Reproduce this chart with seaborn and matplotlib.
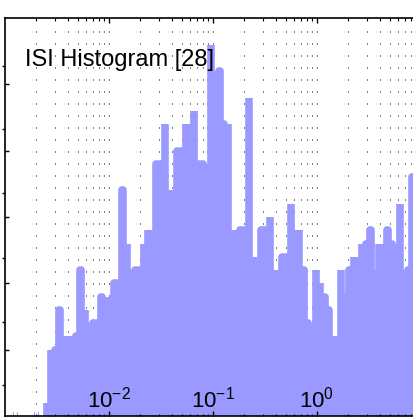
import numpy as np
import pandas as pd
import matplotlib.pyplot as plt
import matplotlib.ticker as mticker
import seaborn as sns

# bins: 100 log-spaced centres between 1 ms and 10 s
bin_centers = np.logspace(-3, 1, 100)
isi_counts = [
    0, 0, 0, 0, 0, 0, 0, 0, 0, 0,
    1, 5, 5, 8, 6, 6, 6, 6, 11, 8,
    7, 7, 7, 9, 9, 9, 10, 10, 17, 13,
    11, 11, 11, 13, 14, 14, 19, 19, 22, 17,
    17, 20, 20, 22, 22, 23, 19, 19, 19, 28,
    26, 26, 22, 22, 14, 14, 14, 14, 24, 12,
    12, 14, 14, 15, 11, 11, 12, 12, 16, 14,
    14, 11, 7, 7, 11, 10, 9, 8, 6, 6,
    11, 9, 11, 12, 12, 13, 13, 14, 11, 13,
    13, 14, 13, 13, 16, 11, 11, 18, 18, 18,
]
xtick_values = [1e-2, 1e-1, 1e0]
xtick_labels = [r'$10^{-2}$', r'$10^{-1}$', r'$10^{0}$']
ytick_values = [5, 10, 15, 20, 25]
ytick_second = [2.3, 7.1, 11.9, 16.8, 21.6, 26.4]
title_text = 'ISI Histogram [28]'

df = pd.DataFrame({'isi': bin_centers, 'count': isi_counts})

sns.set_style('white')
plt.rcParams['font.family'] = ['Liberation Sans', 'DejaVu Sans']
plt.rcParams['mathtext.fontset'] = 'custom'
plt.rcParams['mathtext.rm'] = 'Liberation Sans'
plt.rcParams['mathtext.it'] = 'Liberation Sans:italic'
plt.rcParams['mathtext.bf'] = 'Liberation Sans:bold'
plt.rcParams['axes.axisbelow'] = False

fig = plt.figure(figsize=(4.14, 4.17), dpi=100)
ax = fig.add_axes([5 / 414, 1 / 417, 416 / 414, 398 / 417])

# histograma com topos arredondados (estilo matlab)
sns.histplot(data=df, x='isi', weights='count', bins=100,
             binrange=(-3.0202, 1.0202), log_scale=True, shrink=0.1,
             color='#9999ff', edgecolor='#9999ff', linewidth=5.5,
             alpha=1, ax=ax)
for p in ax.patches:
    p.set_joinstyle('round')

ax.set_xlim(1e-3, 10)
ax.set_ylim(0, 30)
ax.set_xlabel('')
ax.set_ylabel('')

for s in ax.spines.values():
    s.set_color('black')
    s.set_linewidth(1.2)

ax.set_xticks(xtick_values)
ax.set_xticklabels(xtick_labels)
ax.xaxis.set_minor_locator(mticker.LogLocator(base=10, subs=np.arange(2, 10), numticks=20))
ax.xaxis.set_minor_formatter(mticker.NullFormatter())
ax.tick_params(axis='x', which='both', direction='in', top=True, bottom=True,
               labelsize=16, pad=-21, colors='black')
ax.tick_params(axis='x', which='major', length=3.5, width=1)
ax.tick_params(axis='x', which='minor', length=1.8, width=0.8)

ax.set_yticks(ytick_values)
ax.set_yticklabels([])
ax.set_yticks(ytick_second, minor=True)
ax.tick_params(axis='y', which='major', direction='in', left=True, right=False,
               length=3, width=1, colors='black')
ax.tick_params(axis='y', which='minor', direction='out', left=True, right=False,
               length=2.5, width=1, colors='black')

# grelha vertical pontilhada por baixo das barras
ax.grid(False)
grid_locs = list(ax.xaxis.get_majorticklocs()) + list(ax.xaxis.get_minorticklocs())
for gx in grid_locs:
    ax.axvline(gx, color='black', linestyle=(0, (1, 11)), linewidth=0.72, zorder=0.5)

ax.text(20 / 416, 350 / 398, title_text, transform=ax.transAxes, fontsize=17,
        color='black', ha='left', va='baseline', zorder=5)

fig.savefig('out.png', dpi=100)
